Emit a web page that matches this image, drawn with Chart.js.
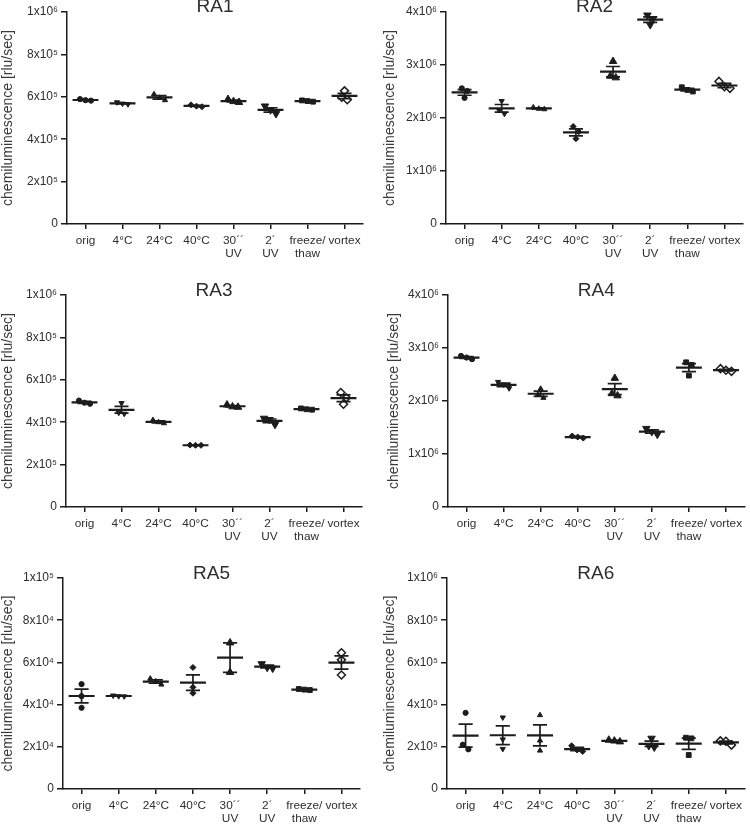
<!DOCTYPE html>
<html><head><meta charset="utf-8">
<script src="https://cdn.jsdelivr.net/npm/chart.js@4"></script>
<style>
html,body{margin:0;padding:0;background:#fff;}
#wrap{position:relative;width:750px;height:824px;overflow:hidden;background:#fff;}
#wrap canvas{position:absolute;}
</style></head><body><div id="wrap"></div>
<script>
// ---------- data ----------
const categories = ['orig', '4°C', '24°C', '40°C', '30´´ UV', '2´ UV', 'freeze/thaw', 'vortex'];
const xTickLabels = ['orig', '4°C', '24°C', '40°C', ['30´´', 'UV'], ['2´', 'UV'], ['freeze/', 'thaw'], 'vortex'];

const ticksE6 = [0, 200000, 400000, 600000, 800000, 1000000];
const labelsE6 = ['0', '2x10⁵', '4x10⁵', '6x10⁵', '8x10⁵', '1x10⁶'];
const ticks4E6 = [0, 1000000, 2000000, 3000000, 4000000];
const labels4E6 = ['0', '1x10⁶', '2x10⁶', '3x10⁶', '4x10⁶'];
const ticksE5 = [0, 20000, 40000, 60000, 80000, 100000];
const labelsE5 = ['0', '2x10⁴', '4x10⁴', '6x10⁴', '8x10⁴', '1x10⁵'];

// replicate measurements per category (rlu/sec)
const ra1Values = [
  [589000, 584000, 582000], [574000, 568000, 565000], [612000, 595000, 584000], [562000, 556000, 553000],
  [588000, 578000, 574000], [556000, 538000, 520000], [583000, 580000, 577000], [628000, 598000, 586000]
];
const ra2Values = [
  [2560000, 2510000, 2380000], [2320000, 2150000, 2080000], [2200000, 2175000, 2165000], [1840000, 1740000, 1610000],
  [3070000, 2790000, 2760000], [3940000, 3870000, 3760000], [2580000, 2530000, 2500000], [2690000, 2590000, 2560000]
];
const ra3Values = [
  [502000, 492000, 487000], [490000, 445000, 440000], [410000, 400000, 395000], [292000, 291000, 291000],
  [482000, 473000, 471000], [418000, 412000, 389000], [465000, 461000, 459000], [540000, 515000, 485000]
];
const ra4Values = [
  [2850000, 2820000, 2790000], [2360000, 2310000, 2240000], [2230000, 2120000, 2060000], [1340000, 1320000, 1300000],
  [2430000, 2140000, 2100000], [1480000, 1420000, 1370000], [2730000, 2680000, 2480000], [2610000, 2580000, 2560000]
];
const ra5Values = [
  [49700, 44000, 38500], [44300, 44000, 43900], [52300, 51000, 49500], [57600, 48200, 45400],
  [69300, 55300], [59300, 57600, 57200], [47400, 47100, 46900], [64600, 61200, 54000]
];
const ra6Values = [
  [361000, 210000, 188000], [339000, 235000, 190000], [350000, 230000, 182000], [205000, 185000, 178000],
  [232000, 228000, 224000], [240000, 205000, 198000], [243000, 240000, 161000], [228000, 226000, 208000]
];

// ---------- styling / layout ----------
const INK = '#1c1c1c';
const TEXT = '#2e2e2e';
const FONT = '"Liberation Sans", Arial, Helvetica, sans-serif';
const MEAN_HALF = 0.35, CAP_HALF = 0.19;

const markerStyles = [
  {style: 'circle', r: 2.6, fill: INK},
  {style: 'triangle', r: 3, rot: 180, fill: INK},
  {style: 'triangle', r: 3, rot: 0, fill: INK},
  {style: 'rectRot', r: 3, fill: INK},
  {style: 'triangle', r: 4.3, rot: 0, fill: INK},
  {style: 'triangle', r: 4.3, rot: 180, fill: INK},
  {style: 'rect', r: 3.4, fill: INK},
  {style: 'rectRot', r: 4, fill: '#ffffff', bw: 1.5}
];

const panels = [
  {title: 'RA1', values: ra1Values, yTicks: ticksE6, yLabels: labelsE6, rect: [0, 0, 375, 275], plot: {left: 67, top: 12, right: 363, bottom: 224}, titleY: 7, yTitleX: 8},
  {title: 'RA2', values: ra2Values, yTicks: ticks4E6, yLabels: labels4E6, rect: [375, 0, 375, 275], plot: {left: 446, top: 12, right: 743, bottom: 224}, titleY: 7, yTitleX: 390},
  {title: 'RA3', values: ra3Values, yTicks: ticksE6, yLabels: labelsE6, rect: [0, 275, 375, 275], plot: {left: 66, top: 295, right: 362, bottom: 507}, titleY: 291, yTitleX: 8},
  {title: 'RA4', values: ra4Values, yTicks: ticks4E6, yLabels: labels4E6, rect: [375, 275, 375, 275], plot: {left: 448, top: 295, right: 748, bottom: 507}, titleY: 291, yTitleX: 394},
  {title: 'RA5', values: ra5Values, yTicks: ticksE5, yLabels: labelsE5, rect: [0, 550, 375, 274], plot: {left: 63, top: 578, right: 360, bottom: 789}, titleY: 573.5, yTitleX: 8},
  {title: 'RA6', values: ra6Values, yTicks: ticksE6, yLabels: labelsE6, rect: [375, 550, 375, 274], plot: {left: 447, top: 578, right: 748, bottom: 789}, titleY: 573.5, yTitleX: 390}
];

// spread overlapping replicate dots sideways (scatter-dot-plot style)
function jitter(g, yMax) {
  const PX_H = 212, MARK = 5.5, UNIT = 37;
  const idx = g.map((v, j) => j).sort((a, b) => g[b] - g[a]);
  const offs = new Array(g.length).fill(0);
  let cluster = [idx[0]];
  const flush = () => {
    const n = cluster.length;
    cluster.forEach((j, k) => { offs[j] = (k - (n - 1) / 2) * MARK / UNIT; });
  };
  for (let k = 1; k < idx.length; k++) {
    const dpx = (g[idx[k - 1]] - g[idx[k]]) / yMax * PX_H;
    if (dpx < MARK) cluster.push(idx[k]); else { flush(); cluster = [idx[k]]; }
  }
  flush();
  return offs;
}

const wrap = document.getElementById('wrap');

function build(p) {
  const [cx, cy, cw, ch] = p.rect;
  const c = document.createElement('canvas');
  c.width = cw; c.height = ch;
  c.style.left = cx + 'px'; c.style.top = cy + 'px';
  c.style.width = cw + 'px'; c.style.height = ch + 'px';
  wrap.appendChild(c);

  const yMax = p.yTicks[p.yTicks.length - 1];
  const datasets = [];
  const means = [], sems = [];
  p.values.forEach(g => {
    const n = g.length;
    const m = g.reduce((a, b) => a + b, 0) / n;
    const sd = Math.sqrt(g.reduce((a, b) => a + (b - m) * (b - m), 0) / (n - 1));
    means.push(m); sems.push(sd / Math.sqrt(n));
  });

  const meanData = [], errData = [];
  means.forEach((m, i) => {
    const s = sems[i];
    meanData.push({x: i - MEAN_HALF, y: m}, {x: i + MEAN_HALF, y: m}, {x: i, y: null});
    errData.push({x: i, y: m - s}, {x: i, y: m + s}, {x: i, y: null},
      {x: i - CAP_HALF, y: m + s}, {x: i + CAP_HALF, y: m + s}, {x: i, y: null},
      {x: i - CAP_HALF, y: m - s}, {x: i + CAP_HALF, y: m - s}, {x: i, y: null});
  });
  datasets.push({type: 'line', data: meanData, borderColor: INK, borderWidth: 2.2, pointRadius: 0, spanGaps: false, fill: false, order: 1});
  datasets.push({type: 'line', data: errData, borderColor: INK, borderWidth: 1.7, pointRadius: 0, spanGaps: false, fill: false, order: 1});

  p.values.forEach((g, i) => {
    const offs = jitter(g, yMax);
    const st = markerStyles[i];
    datasets.push({
      type: 'scatter',
      data: g.map((v, j) => ({x: i + offs[j], y: v})),
      pointStyle: st.style, pointRadius: st.r, pointRotation: st.rot || 0,
      backgroundColor: st.fill, borderColor: INK, pointBorderWidth: st.bw || 1,
      showLine: false, order: 2
    });
  });

  const plotTopRel = p.plot.top - cy;
  const titleLine = 19;
  const tTop = (p.titleY - cy) - titleLine / 2;
  const tBottom = plotTopRel - titleLine - tTop;
  const yTitleFont = 14;
  const yTitlePad = (p.yTitleX - cx) - yTitleFont * 1.2 / 2;

  new Chart(c, {
    type: 'scatter',
    data: {datasets},
    options: {
      responsive: false, animation: false, devicePixelRatio: 1,
      layout: {padding: {left: 0, top: 0, right: (cx + cw) - p.plot.right, bottom: 0}},
      plugins: {
        legend: {display: false}, tooltip: {enabled: false},
        title: {display: true, text: p.title, fullSize: false, color: TEXT,
          font: {family: FONT, size: 19, weight: 'normal', lineHeight: 1},
          padding: {top: tTop, bottom: tBottom}}
      },
      scales: {
        x: {
          type: 'linear', min: -0.5, max: 7.5,
          afterBuildTicks: s => { s.ticks = categories.map((_, i) => ({value: i})); },
          afterFit: s => { s.height = (cy + ch) - p.plot.bottom; },
          ticks: {callback: v => xTickLabels[v], color: TEXT, font: {family: FONT, size: 11.8, lineHeight: 1.1}, padding: 5, maxRotation: 0, autoSkip: false},
          grid: {display: true, drawOnChartArea: false, drawTicks: true, tickLength: 5, color: INK, lineWidth: 1.5},
          border: {display: true, color: INK, width: 1.5}
        },
        y: {
          type: 'linear', min: 0, max: yMax,
          afterBuildTicks: s => { s.ticks = p.yTicks.map(v => ({value: v})); },
          afterFit: s => { s.width = p.plot.left - cx; },
          ticks: {callback: (v, idx) => p.yLabels[idx], color: TEXT, font: {family: FONT, size: 12}, padding: 3},
          title: {display: true, text: 'chemiluminescence [rlu/sec]', color: '#3a3a3a', font: {family: FONT, size: yTitleFont, lineHeight: 1.2}, padding: {top: yTitlePad, bottom: 0}},
          grid: {display: true, drawOnChartArea: false, drawTicks: true, tickLength: 6, color: INK, lineWidth: 1.5},
          border: {display: true, color: INK, width: 1.5}
        }
      }
    }
  });
}

panels.forEach(build);
</script>
</body></html>
